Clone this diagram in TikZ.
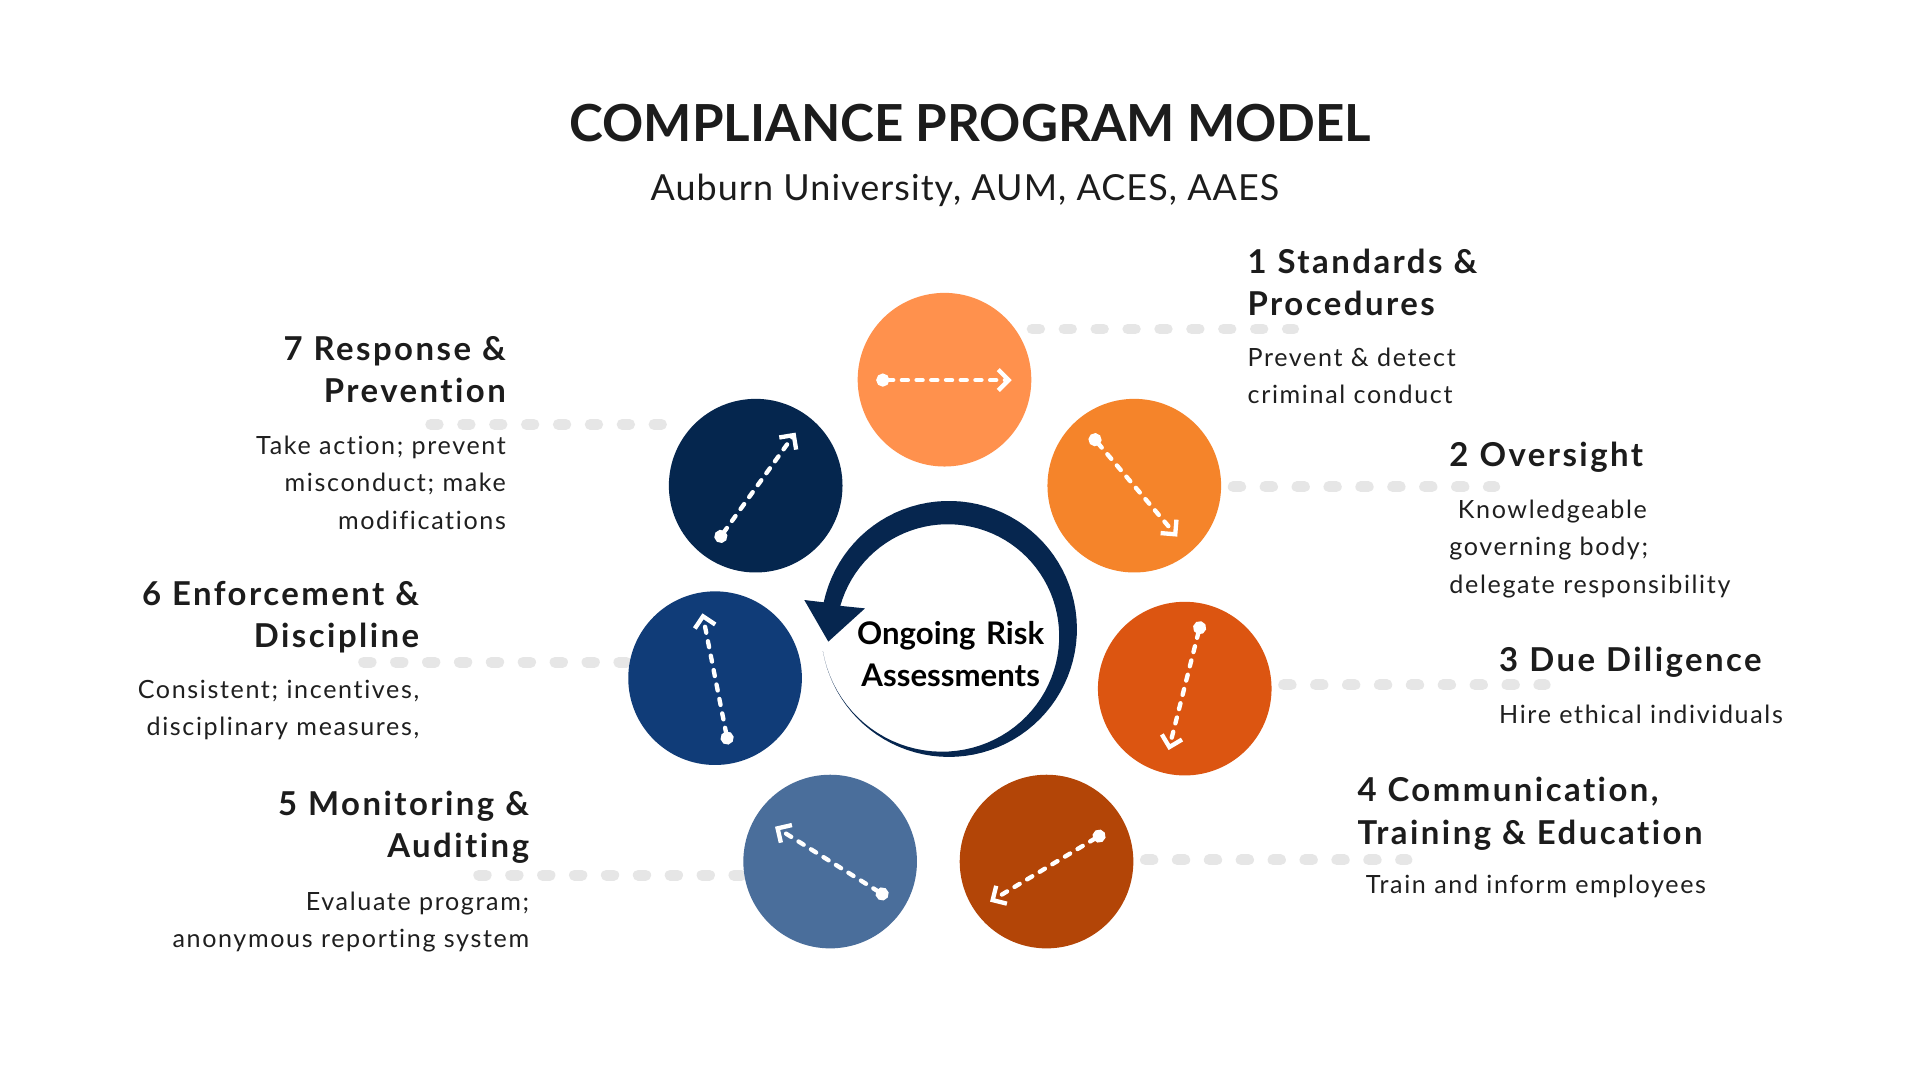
\documentclass[tikz,border=0pt]{standalone}
\usepackage{fontspec}
\setmainfont{Lato}
\newfontfamily\headfont{Lato}[LetterSpace=7.5, Ligatures=NoCommon]
\newfontfamily\bodyfont{Lato}[LetterSpace=6.5, Ligatures=NoCommon]
\newfontfamily\subfont{Lato}[LetterSpace=3]
\newfontfamily\titlefont{Lato}
\usetikzlibrary{arrows.meta, positioning, backgrounds}
\definecolor{stage1}{HTML}{FF914D}
\definecolor{stage2}{HTML}{F5842A}
\definecolor{stage3}{HTML}{DC5511}
\definecolor{stage4}{HTML}{B34507}
\definecolor{stage5}{HTML}{4A6E9B}
\definecolor{stage6}{HTML}{103C78}
\definecolor{stage7}{HTML}{05264E}
\definecolor{ringnavy}{HTML}{06264F}
\definecolor{leadgrey}{HTML}{E6E6E6}
\definecolor{inkdark}{HTML}{1C1C1C}
\definecolor{inkbody}{HTML}{1F1F1F}
\tikzset{
  stage/.style={circle, minimum size=1.41cm, inner sep=0pt},
  flow/.style={white, line width=1pt, line cap=round, dash pattern=on 1.4pt off 2pt,
    {Circle[length=3pt]}-{Straight Barb[length=2.4pt,width=4.8pt]}},
  leader/.style={draw=leadgrey, line width=2.53pt, line cap=round, dash pattern=on 1.71pt off 5.66pt},
  head/.style={inner sep=0pt, text width=3.4cm, text=inkdark,
    font=\headfont\bfseries\fontsize{7.6}{9.82}\selectfont},
  body/.style={inner sep=0pt, text width=3.4cm, text=inkbody,
    font=\bodyfont\fontsize{5.8}{8.68}\selectfont},
  title/.style={inner sep=0pt, text=inkdark, font=\titlefont\bfseries\fontsize{11.8}{14}\selectfont},
  subtitle/.style={inner sep=0pt, text=inkdark, font=\subfont\fontsize{8.3}{10}\selectfont},
  centre/.style={inner sep=0pt, text width=2cm, align=center, text=black,
    font=\bfseries\fontsize{7.2}{9.64}\selectfont}
}
\begin{document}
\begin{tikzpicture}[x=0.01cm, y=-0.01cm]
\useasboundingbox (0,0) rectangle (1560,878);

% Title
\node[title, anchor=base] (title) at (788.5,115) {COMPLIANCE PROGRAM MODEL};
\node[subtitle, anchor=base] (sub) at (784,163) {Auburn University, AUM, ACES, AAES};

% Draw the seven stage circles
\foreach \name/\x/\y in {1/767.4/308.5, 2/921.6/394.6, 3/962.6/559.5, 4/850.3/700,
                         5/674.5/700, 6/581/551, 7/614/394.6}
  \node[stage, fill=stage\name] (c\name) at (\x,\y) {};

% Dotted arrows inside the circles
\foreach \name/\ax/\ay/\bx/\by in {1/-55.4/0.3/54.6/0.3, 2/-35.3/-41.4/34.9/41.4,
    3/13.4/-54.6/-13.1/49.9, 4/47.2/-23.4/-45.9/32.6, 5/46.7/29.1/-44.8/-28.3,
    6/10.8/53.8/-10.3/-52.7, 7/-31.4/45.5/32.4/-43.1}
  \draw[flow] ([shift={(\ax,\ay)}]c\name.center) -- ([shift={(\bx,\by)}]c\name.center);

% Ring arrow round the centre
\fill[ringnavy] plot[domain=0:338, samples=90, variable=\s]
    ({771+104*cos(170-\s)}, {511+104*sin(170-\s)})
  -- (653.5,487.5) -- (673,521.3) -- (702.8,494.3)
  -- plot[domain=0:338, samples=90, variable=\u]
    ({771+(104-19*pow(sin(0.36*(338-\u)),2))*cos(\u-168)},
     {511+(104-19*pow(sin(0.36*(338-\u)),2))*sin(\u-168)})
  -- cycle;
\node[centre, anchor=base] (risk) at (772.4,524) {Ongoing Risk\\Assessments};

% Labels on the right
\node[head, align=left, anchor=base west] (h1) at (1013,222) {1 Standards \&\\Procedures};
\node[body, align=left, anchor=base west] (b1) at (1013,297.4) {Prevent \& detect\\criminal conduct};
\node[head, align=left, anchor=base west] (h2) at (1177,379.2) {2 Oversight};
\node[body, align=left, anchor=base west] (b2) at (1177,421.1) {\ Knowledgeable\\governing body;\\delegate responsibility};
\node[head, align=left, anchor=base west] (h3) at (1217.4,545.7) {3 Due Diligence};
\node[body, align=left, anchor=base west] (b3) at (1217.4,587.7) {Hire ethical individuals};
\node[head, align=left, anchor=base west] (h4) at (1102.3,651.3) {4 Communication,\\Training \& Education};
\node[body, align=left, anchor=base west] (b4) at (1102.3,725.8) {\ Train and inform employees};

% Labels on the left
\node[head, align=right, anchor=base east] (h5) at (430.6,662.2) {5 Monitoring \&\\Auditing};
\node[body, align=right, anchor=base east] (b5) at (430.6,739.4) {Evaluate program;\\anonymous reporting system};
\node[head, align=right, anchor=base east] (h6) at (341.3,491.6) {6 Enforcement \&\\Discipline};
\node[body, align=right, anchor=base east] (b6) at (341.3,567.4) {Consistent; incentives,\\disciplinary measures,};
\node[head, align=right, anchor=base east] (h7) at (411.7,292.5) {7 Response \&\\Prevention};
\node[body, align=right, anchor=base east] (b7) at (411.7,368.9) {Take action; prevent\\misconduct; make\\modifications};

% Free ends of the leader lines
\coordinate (e1) at (1051.1,267.3);
\coordinate (e2) at (1214.4,395.4);
\coordinate (e3) at (1255.4,556.5);
\coordinate (e4) at (1143.1,698.7);
\coordinate (e5) at (389,711);
\coordinate (e6) at (295.5,538);
\coordinate (e7) at (350,344.8);

\begin{scope}[on background layer]
  \fill[white] (0,0) rectangle (1560,878);
  \draw[leader] (c1.east |- e1) -- (e1);
  \draw[leader, shorten <=2.6pt] (c2.east |- e2) -- (e2);
  \draw[leader, shorten <=2.6pt] (c3.east |- e3) -- (e3);
  \draw[leader, shorten <=2.6pt] (c4.east |- e4) -- (e4);
  \draw[leader] (e5) -- (c5.west |- e5);
  \draw[leader] (e6) -- (c6.west |- e6);
  \draw[leader] (e7) -- (c7.west |- e7);
\end{scope}
\end{tikzpicture}
\end{document}
